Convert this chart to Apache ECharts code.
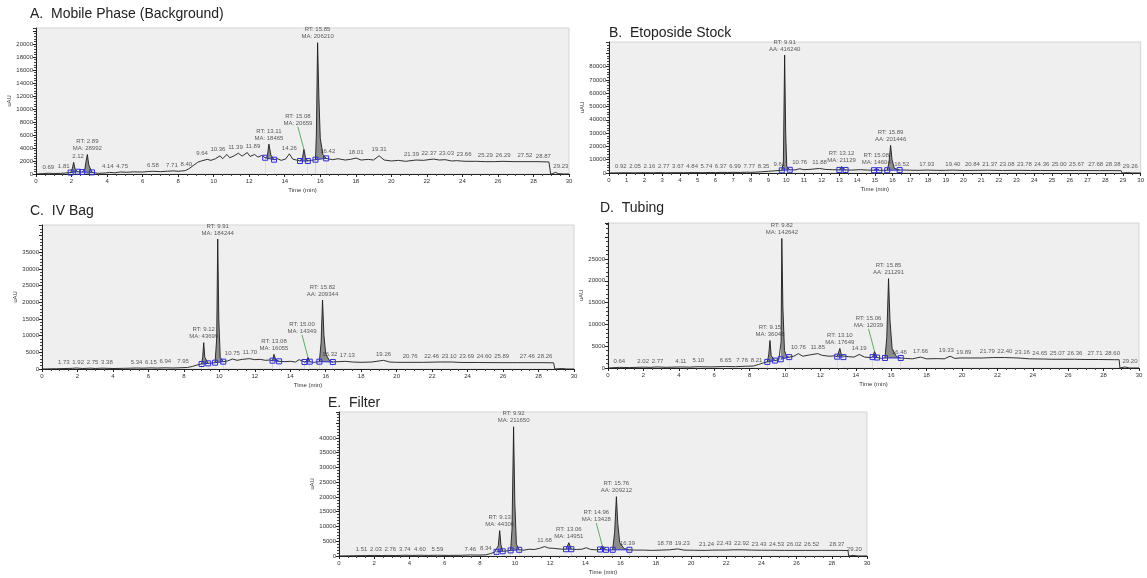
<!DOCTYPE html>
<html lang="en">
<head>
    <meta charset="UTF-8">
    <title>Chromatograms</title>
    <script src="https://cdn.jsdelivr.net/npm/echarts@6/dist/echarts.min.js"></script>
    <style>
        html, body { margin: 0; padding: 0; background: #fff; }
        #chart { width: 1147px; height: 578px; }
    </style>
</head>
<body>
    <div id="chart"></div>
    <script>
        // ---- data: [time (min), signal (uAU)] ----
        const traceA = [[0,0],[0.4,60],[0.69,120],[1.0,80],[1.4,100],[1.81,180],[1.95,220],[2.05,900],[2.12,1800],[2.2,700],[2.35,350],[2.45,550],[2.6,300],[2.75,700],[2.82,2000],[2.89,3000],[2.97,1400],[3.15,250],[3.5,100],[3.9,150],[4.14,250],[4.45,180],[4.75,320],[5.1,260],[5.5,330],[6.0,300],[6.3,380],[6.58,420],[7.0,360],[7.4,430],[7.71,480],[8.0,420],[8.4,520],[8.6,800],[8.85,1300],[9.1,1800],[9.3,2000],[9.64,2250],[9.85,2100],[10.1,2350],[10.36,2800],[10.5,2350],[10.75,3000],[10.9,2500],[11.15,2800],[11.39,3200],[11.6,2750],[11.89,3300],[12.05,2700],[12.3,3000],[12.5,2600],[12.7,2850],[12.9,2500],[13.02,2700],[13.11,4600],[13.22,2900],[13.4,2200],[13.6,2350],[13.8,2100],[14.05,2300],[14.26,3100],[14.45,2300],[14.65,2150],[14.86,2000],[15.0,2500],[15.08,3800],[15.17,2500],[15.3,2000],[15.5,2100],[15.73,2200],[15.78,6000],[15.85,20200],[15.92,12000],[16.0,5500],[16.15,3000],[16.33,2400],[16.42,2500],[16.7,2200],[17.0,2350],[17.4,2150],[17.7,2250],[18.01,2450],[18.3,2150],[18.7,2250],[19.0,2150],[19.31,2800],[19.6,2150],[20.0,2000],[20.4,2100],[20.8,1950],[21.39,2150],[21.8,2100],[22.37,2300],[22.7,2150],[23.03,2200],[23.4,2000],[23.66,2050],[24.2,1950],[24.8,1950],[25.29,1900],[25.8,1900],[26.29,1950],[26.9,1900],[27.52,1900],[28.2,1900],[28.87,1850],[28.95,1850],[28.97,0],[29.1,60],[29.23,250],[29.4,60],[29.7,0],[30,0]];
        const traceB = [[0,0],[0.5,100],[0.92,200],[1.4,100],[2.05,250],[2.16,350],[2.5,150],[2.77,300],[3.2,150],[3.67,250],[4.2,200],[4.84,350],[5.3,250],[5.74,400],[6.0,300],[6.37,450],[6.7,350],[6.99,500],[7.4,400],[7.77,600],[8.0,500],[8.35,700],[8.6,900],[9.0,1300],[9.3,1600],[9.61,1900],[9.75,2000],[9.84,8000],[9.91,88700],[9.97,30000],[10.03,5000],[10.2,2400],[10.5,2300],[10.76,3200],[11.0,2500],[11.4,2800],[11.88,3400],[12.2,2700],[12.6,2500],[13.0,2300],[13.12,4800],[13.35,2300],[13.7,2200],[14.2,2500],[14.6,2200],[14.95,2100],[15.08,3300],[15.25,2100],[15.5,2000],[15.7,2100],[15.8,8000],[15.89,20800],[15.97,10000],[16.1,3500],[16.4,2200],[16.52,2300],[17.0,2100],[17.5,2000],[17.93,2200],[18.5,2000],[19.0,2000],[19.4,2200],[20.0,1900],[20.84,2000],[21.37,2100],[22.2,1900],[23.08,2000],[23.78,1900],[24.36,1900],[25.0,1850],[25.67,1850],[26.5,1850],[27.68,1800],[28.38,1800],[28.9,1750],[28.95,0],[29.26,300],[29.5,0],[30,0]];
        const traceC = [[0,0],[0.8,80],[1.73,200],[1.92,300],[2.3,150],[2.75,250],[3.0,150],[3.38,250],[4.0,150],[4.6,200],[5.34,300],[5.7,250],[6.15,330],[6.5,280],[6.94,350],[7.4,300],[7.95,400],[8.2,450],[8.5,800],[8.8,1300],[9.0,1500],[9.06,3500],[9.12,7900],[9.18,3500],[9.37,1700],[9.6,1800],[9.76,1900],[9.85,9000],[9.91,39000],[9.97,15000],[10.05,3500],[10.22,2200],[10.45,2400],[10.75,3000],[11.0,2600],[11.3,2900],[11.7,3100],[12.0,2800],[12.3,2900],[12.6,2600],[12.85,2700],[13.0,2500],[13.08,4400],[13.18,2700],[13.37,2300],[13.7,2200],[14.0,2300],[14.3,2100],[14.5,2800],[14.8,2100],[14.92,2400],[15.0,3500],[15.1,2200],[15.3,2000],[15.5,2100],[15.64,2200],[15.74,8000],[15.82,20700],[15.9,10000],[16.0,4500],[16.2,2600],[16.4,2100],[16.7,2200],[17.13,2300],[17.5,2100],[18.0,2000],[18.6,2100],[19.26,2600],[19.6,2100],[20.0,2000],[20.76,2000],[21.5,2000],[22.46,2100],[23.1,2100],[23.69,1950],[24.6,1950],[25.89,1900],[26.8,1900],[27.46,1900],[28.26,1900],[28.85,1850],[28.92,0],[29.3,150],[29.6,0],[30,0]];
        const traceD = [[0,0],[0.64,150],[1.2,100],[2.02,200],[2.4,150],[2.77,250],[3.3,150],[4.11,250],[4.6,200],[5.1,300],[5.8,250],[6.65,350],[7.2,300],[7.76,400],[8.21,450],[8.5,800],[8.8,1200],[9.0,1400],[9.08,3000],[9.15,6300],[9.22,2800],[9.43,1700],[9.65,1900],[9.76,2000],[9.78,6000],[9.82,29700],[9.88,14000],[9.97,4000],[10.1,2600],[10.24,2500],[10.5,2700],[10.76,3300],[11.0,2700],[11.4,3000],[11.85,3300],[12.1,2900],[12.5,2700],[12.8,2800],[12.95,2600],[13.1,4500],[13.2,2800],[13.3,2500],[13.6,2600],[13.9,2500],[14.19,3100],[14.5,2500],[14.8,2400],[14.95,2500],[15.06,3800],[15.2,2400],[15.45,2200],[15.65,2300],[15.75,7000],[15.85,20500],[15.93,11000],[16.05,4500],[16.3,2600],[16.54,2300],[16.8,2200],[17.2,2100],[17.66,2500],[18.0,2100],[18.6,2150],[19.0,2100],[19.33,2700],[19.6,2200],[19.89,2300],[20.5,2300],[21.2,2300],[21.79,2400],[22.4,2400],[23.16,2300],[23.8,2100],[24.65,2050],[25.07,2000],[25.6,2000],[26.36,2000],[27.0,1950],[27.71,1950],[28.6,1900],[28.88,1900],[28.92,0],[29.2,250],[29.45,0],[30,0]];
        const traceE = [[0,0],[0.8,80],[1.51,150],[2.03,200],[2.4,150],[2.76,200],[3.2,150],[3.74,250],[4.2,200],[4.6,250],[5.1,200],[5.59,250],[6.3,200],[7.0,250],[7.46,350],[7.9,300],[8.34,400],[8.6,800],[8.85,1300],[8.95,1400],[9.05,3500],[9.13,8600],[9.2,3800],[9.3,1600],[9.5,1700],[9.75,1900],[9.83,9000],[9.92,43800],[9.99,18000],[10.08,4000],[10.24,2100],[10.5,2000],[10.8,2300],[11.1,2200],[11.4,2600],[11.68,3200],[11.9,2700],[12.2,2600],[12.5,2400],[12.75,2300],[12.9,2300],[13.06,4500],[13.2,2300],[13.5,2200],[13.8,2300],[14.05,2800],[14.3,2200],[14.6,2100],[14.83,2200],[14.96,3500],[15.17,2100],[15.35,2000],[15.55,2100],[15.66,8000],[15.76,20100],[15.84,11000],[15.95,4500],[16.2,2500],[16.5,2100],[16.8,2000],[17.3,2000],[17.8,1900],[18.3,2000],[18.78,2100],[19.23,2400],[19.6,2000],[20.2,1950],[20.8,1900],[21.24,2000],[22.0,2000],[22.43,2100],[22.92,2100],[23.43,2000],[24.0,1950],[24.53,1950],[25.3,1900],[26.02,1900],[26.52,1900],[27.4,1900],[28.37,1900],[28.92,1850],[28.96,0],[29.2,200],[29.5,0],[30,0]];

        // integrated peaks: [start, end] (min)
        const peaksA = [[1.95,2.35],[2.6,3.15],[12.9,13.4],[14.86,15.3],[15.73,16.33]];
        const peaksB = [[9.75,10.2],[13.0,13.35],[14.95,15.25],[15.7,16.4]];
        const peaksC = [[9.0,9.37],[9.76,10.22],[13.0,13.37],[14.8,15.1],[15.64,16.4]];
        const peaksD = [[9.0,9.43],[9.76,10.24],[12.95,13.3],[14.95,15.2],[15.65,16.54]];
        const peaksE = [[8.95,9.3],[9.75,10.24],[12.9,13.2],[14.83,15.17],[15.55,16.5]];

        // peak annotations: [RT, area text]
        const peakInfoA = [[2.89,'MA: 28992'],[13.11,'MA: 18465'],[15.08,'MA: 20659'],[15.85,'MA: 206210']];
        const peakInfoB = [[9.91,'AA: 416240'],[13.12,'MA: 21129'],[15.08,'MA: 14604'],[15.89,'AA: 201446']];
        const peakInfoC = [[9.12,'MA: 43699'],[9.91,'MA: 184244'],[13.08,'MA: 16055'],[15.00,'MA: 14349'],[15.82,'AA: 209344']];
        const peakInfoD = [[9.15,'MA: 36046'],[9.82,'MA: 142642'],[13.10,'MA: 17649'],[15.06,'MA: 12039'],[15.85,'AA: 211291']];
        const peakInfoE = [[9.13,'MA: 44306'],[9.92,'MA: 211650'],[13.06,'MA: 14951'],[14.96,'MA: 13428'],[15.76,'AA: 209212']];

        // small retention time labels
        const rtA = [0.69,1.81,2.12,4.14,4.75,6.58,7.71,8.40,9.64,10.36,11.39,11.89,14.26,16.42,18.01,19.31,21.39,22.37,23.03,23.66,25.29,26.29,27.52,28.87,29.23];
        const rtB = [0.92,2.05,2.16,2.77,3.67,4.84,5.74,6.37,6.99,7.77,8.35,9.61,10.76,11.88,16.52,17.93,19.40,20.84,21.37,23.08,23.78,24.36,25.00,25.67,27.68,28.38,29.26];
        const rtC = [1.73,1.92,2.75,3.38,5.34,6.15,6.94,7.95,10.75,11.70,16.32,17.13,19.26,20.76,22.46,23.10,23.69,24.60,25.89,27.46,28.26];
        const rtD = [0.64,2.02,2.77,4.11,5.10,6.65,7.76,8.21,10.76,11.85,14.19,16.46,17.66,19.33,19.89,21.79,22.40,23.16,24.65,25.07,26.36,27.71,28.60,29.20];
        const rtE = [1.51,2.03,2.76,3.74,4.60,5.59,7.46,8.34,11.68,16.39,18.78,19.23,21.24,22.43,22.92,23.43,24.53,26.02,26.52,28.37,29.20];

        // tick labels
        const yTicksA = [0,2000,4000,6000,8000,10000,12000,14000,16000,18000,20000];
        const yTicksB = [0,10000,20000,30000,40000,50000,60000,70000,80000];
        const yTicksC = [0,5000,10000,15000,20000,25000,30000,35000];
        const yTicksD = [0,5000,10000,15000,20000,25000];
        const yTicksE = [0,5000,10000,15000,20000,25000,30000,35000,40000];
        const xTicks2 = [0,2,4,6,8,10,12,14,16,18,20,22,24,26,28,30];
        const xTicks1 = [0,1,2,3,4,5,6,7,8,9,10,11,12,13,14,15,16,17,18,19,20,21,22,23,24,25,26,27,28,29,30];

        // ---- layout ----
        const BG = '#efefef';
        const FONT = '"Liberation Sans", Arial, sans-serif';
        const panels = [
            { title: 'A.  Mobile Phase (Background)', trace: traceA, peaks: peaksA, info: peakInfoA, rt: rtA, yTicks: yTicksA, xTicks: xTicks2,
              grid: { left: 36, top: 28, width: 533, height: 146 }, titlePos: { left: 25, top: 2 }, yMax: 22460, yStep: 2000, xStep: 2, lift: [15.08], nameGap: 24 },
            { title: 'B.  Etoposide Stock', trace: traceB, peaks: peaksB, info: peakInfoB, rt: rtB, yTicks: yTicksB, xTicks: xTicks1,
              grid: { left: 609, top: 42, width: 537, height: 131 }, titlePos: { left: 604, top: 21 }, yMax: 98500, yStep: 10000, xStep: 1, lift: [], nameGap: 20 },
            { title: 'C.  IV Bag', trace: traceC, peaks: peaksC, info: peakInfoC, rt: rtC, yTicks: yTicksC, xTicks: xTicks2,
              grid: { left: 42, top: 225, width: 532, height: 144 }, titlePos: { left: 25, top: 199 }, yMax: 43200, yStep: 5000, xStep: 2, lift: [15.00], nameGap: 24 },
            { title: 'D.  Tubing', trace: traceD, peaks: peaksD, info: peakInfoD, rt: rtD, yTicks: yTicksD, xTicks: xTicks2,
              grid: { left: 608, top: 223, width: 531, height: 145 }, titlePos: { left: 595, top: 196 }, yMax: 33250, yStep: 5000, xStep: 2, lift: [15.06], nameGap: 24 },
            { title: 'E.  Filter', trace: traceE, peaks: peaksE, info: peakInfoE, rt: rtE, yTicks: yTicksE, xTicks: xTicks2,
              grid: { left: 339, top: 412, width: 528, height: 144 }, titlePos: { left: 323, top: 391 }, yMax: 48800, yStep: 5000, xStep: 2, lift: [14.96], nameGap: 24 }
        ];

        // highest trace value near t (for placing text above a peak)
        function topNear(trace, t, w) {
            let best = null, nearest = trace[0], dist = Infinity;
            trace.forEach(p => {
                const d = Math.abs(p[0] - t);
                if (d <= w && (best === null || p[1] > best)) best = p[1];
                if (d < dist) { dist = d; nearest = p; }
            });
            return best === null ? nearest[1] : best;
        }
        function valueAt(trace, t) {
            let nearest = trace[0];
            trace.forEach(p => { if (Math.abs(p[0] - t) < Math.abs(nearest[0] - t)) nearest = p; });
            return nearest[1];
        }

        // spread crowded small labels around their own centre so they do not overlap
        function labelShifts(p) {
            const pxPerMin = p.grid.width / 30, gap = 2;
            const ideal = p.rt.map(t => t * pxPerMin);
            const widths = p.rt.map(t => t.toFixed(2).length * 3.1);
            const groups = [];
            ideal.forEach((x, k) => {
                groups.push({ items: [k] });
                while (groups.length > 1) {
                    const g = groups[groups.length - 1], prev = groups[groups.length - 2];
                    const place = grp => {
                        const total = grp.items.reduce((s, j) => s + widths[j], 0) + gap * (grp.items.length - 1);
                        const centre = grp.items.reduce((s, j) => s + ideal[j], 0) / grp.items.length;
                        grp.left = centre - total / 2; grp.right = centre + total / 2;
                    };
                    place(g); place(prev);
                    if (prev.right + gap > g.left) {
                        prev.items = prev.items.concat(g.items);
                        groups.pop();
                    } else break;
                }
            });
            const shifts = new Array(ideal.length).fill(0);
            groups.forEach(g => {
                const total = g.items.reduce((s, j) => s + widths[j], 0) + gap * (g.items.length - 1);
                let x = g.items.reduce((s, j) => s + ideal[j], 0) / g.items.length - total / 2;
                g.items.forEach(j => { shifts[j] = x + widths[j] / 2 - ideal[j]; x += widths[j] + gap; });
            });
            return shifts;
        }

        const axisText = { fontSize: 6, color: '#333', fontFamily: FONT };
        const option = { animation: false, title: [], grid: [], xAxis: [], yAxis: [], series: [] };

        panels.forEach((p, i) => {
            option.title.push({ text: p.title, left: p.titlePos.left, top: p.titlePos.top,
                textStyle: { fontSize: 14, fontWeight: 'normal', color: '#222', fontFamily: FONT } });
            option.grid.push(Object.assign({ show: true, backgroundColor: BG, borderColor: '#d4d4d4', borderWidth: 1 }, p.grid));
            option.xAxis.push({
                type: 'value', gridIndex: i, min: 0, max: 30, interval: p.xStep,
                name: 'Time (min)', nameLocation: 'middle', nameGap: 13, nameTextStyle: axisText,
                axisLine: { lineStyle: { color: '#222', width: 1 } },
                axisTick: { length: 3, lineStyle: { color: '#222' } },
                minorTick: { show: true, splitNumber: p.xStep === 2 ? 4 : 2, length: 2, lineStyle: { color: '#444' } },
                axisLabel: Object.assign({ margin: 4, formatter: v => p.xTicks.includes(v) ? String(v) : '' }, axisText),
                splitLine: { show: false }
            });
            option.yAxis.push({
                type: 'value', gridIndex: i, min: 0, max: p.yMax, interval: p.yStep,
                name: 'uAU', nameLocation: 'middle', nameGap: p.nameGap, nameTextStyle: axisText,
                axisLine: { show: true, lineStyle: { color: '#222', width: 1 } },
                axisTick: { show: true, length: 3, lineStyle: { color: '#222' } },
                minorTick: { show: true, splitNumber: 5, length: 2, lineStyle: { color: '#444' } },
                axisLabel: Object.assign({ margin: 3, formatter: v => p.yTicks.includes(v) ? String(v) : '' }, axisText),
                splitLine: { show: false }
            });

            const base = { xAxisIndex: i, yAxisIndex: i, silent: true };
            p.peaks.forEach(([t0, t1]) => {
                const ends = [[t0, valueAt(p.trace, t0)], [t1, valueAt(p.trace, t1)]];
                option.series.push(Object.assign({ type: 'line', z: 2, symbol: 'none',
                    data: p.trace.filter(q => q[0] >= t0 && q[0] <= t1),
                    lineStyle: { width: 0 }, areaStyle: { color: '#8d8d8d', opacity: 1 } }, base));
                option.series.push(Object.assign({ type: 'line', z: 3, symbol: 'none', data: ends,
                    lineStyle: { width: 0 }, areaStyle: { color: BG, opacity: 1 } }, base));
                option.series.push(Object.assign({ type: 'line', z: 5, data: ends, symbol: 'rect', symbolSize: 5, showSymbol: true,
                    lineStyle: { color: '#2f2fd0', width: 1 },
                    itemStyle: { color: 'rgba(0,0,0,0)', borderColor: '#2f2fd0', borderWidth: 1 } }, base));
            });

            option.series.push(Object.assign({ type: 'line', z: 4, symbol: 'none', data: p.trace,
                lineStyle: { color: '#1c1c1c', width: 0.9 } }, base));

            const labelStyle = { show: true, position: 'top', distance: 2, fontSize: 6, lineHeight: 7, color: '#333', fontFamily: FONT };
            const shifts = labelShifts(p);
            option.series.push(Object.assign({ type: 'scatter', z: 6, symbolSize: 1, itemStyle: { color: 'rgba(0,0,0,0)' },
                data: p.rt.map((t, k) => ({ value: [t, topNear(p.trace, t, 0.15)],
                    label: { formatter: t.toFixed(2), offset: [shifts[k], 0] } })),
                label: labelStyle }, base));

            const normal = p.info.filter(d => !p.lift.includes(d[0]));
            const lifted = p.info.filter(d => p.lift.includes(d[0]));
            const toItem = d => ({ value: [d[0], topNear(p.trace, d[0], 0.05)], label: { formatter: 'RT: ' + d[0].toFixed(2) + '\n' + d[1] } });
            option.series.push(Object.assign({ type: 'scatter', z: 6, symbolSize: 1, itemStyle: { color: 'rgba(0,0,0,0)' },
                data: normal.map(toItem), label: Object.assign({}, labelStyle, { align: 'center' }) }, base));
            option.series.push(Object.assign({ type: 'scatter', z: 6, symbolSize: 1, itemStyle: { color: 'rgba(0,0,0,0)' },
                data: lifted.map(toItem), label: Object.assign({}, labelStyle, { align: 'center' }),
                labelLayout: { dx: -6, dy: -20 },
                labelLine: { show: true, lineStyle: { color: '#3a9a3a', width: 0.8 } } }, base));
        });

        const chart = echarts.init(document.getElementById('chart'), null, { renderer: 'canvas' });
        chart.setOption(option);
    </script>
</body>
</html>
